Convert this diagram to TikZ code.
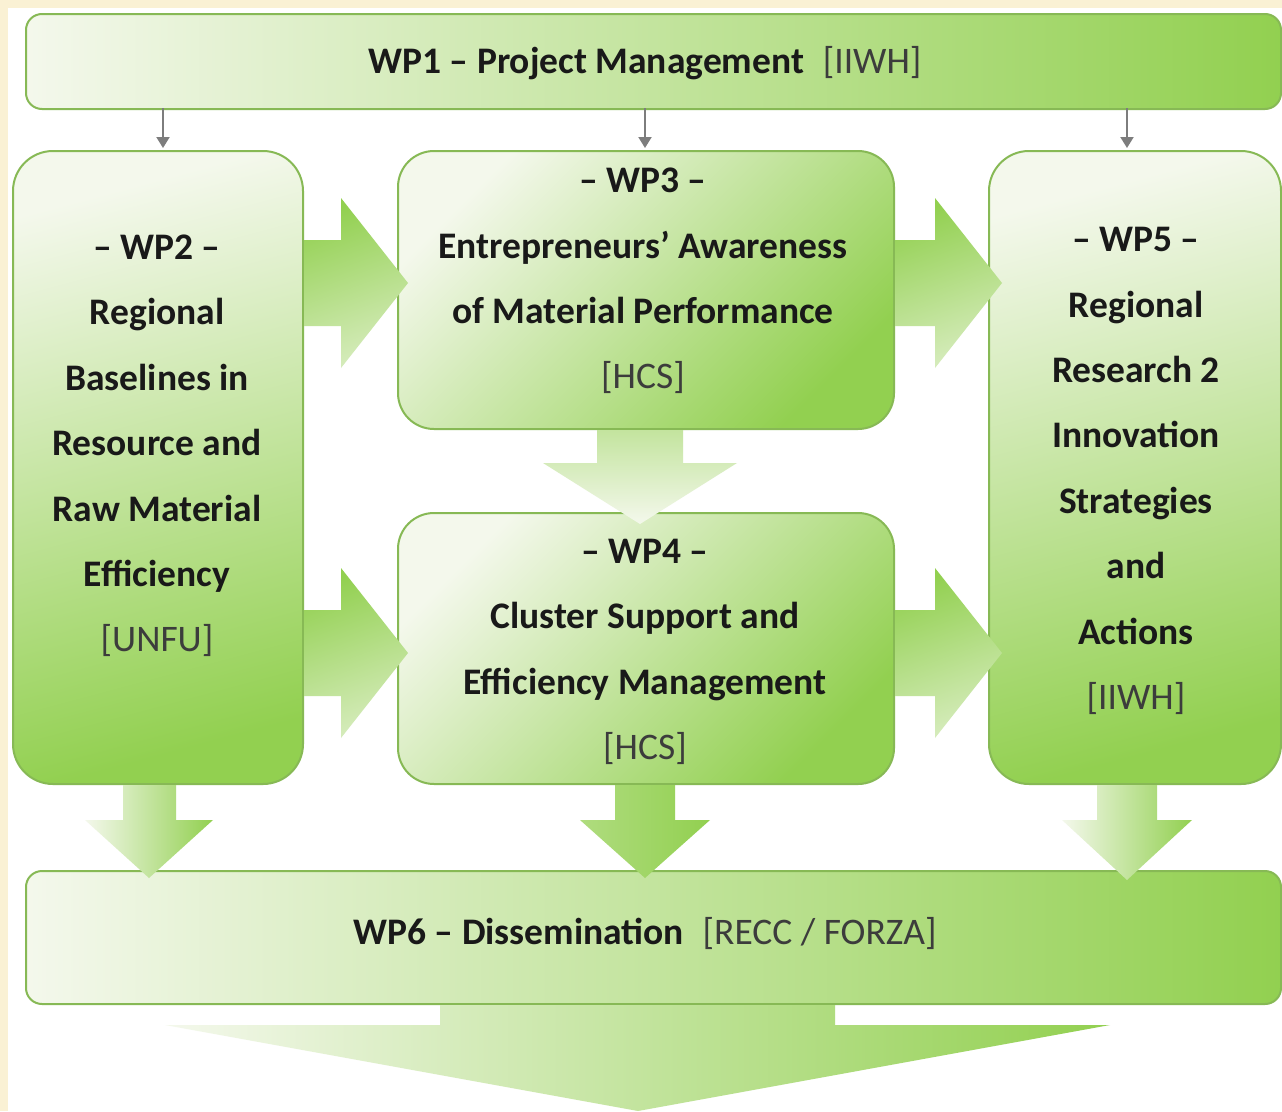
\documentclass[tikz,border=0pt]{standalone}
\usepackage{fontspec}
\setmainfont{Carlito}
\usetikzlibrary{arrows.meta,calc}
\definecolor{cream}{RGB}{250,241,212}
\definecolor{gr}{RGB}{146,208,80}
\definecolor{lt}{RGB}{244,248,236}
\definecolor{bd}{RGB}{135,185,85}
\definecolor{txt}{RGB}{25,25,25}
\definecolor{brk}{RGB}{60,60,60}
\definecolor{arrgray}{RGB}{125,125,125}
\begin{document}
\begin{tikzpicture}[x=1pt,y=-1pt,
  wpbox/.style={draw=bd, line width=2pt, inner sep=0pt, anchor=north west},
  wptext/.style={font=\fontsize{37.5}{65.4}\selectfont, align=center, text=txt, inner sep=0pt},
  thin arrow/.style={draw=arrgray, line width=2pt, -{Triangle[width=13pt,length=11pt]}},
  blockH/.style={top color=gr, bottom color=lt!70!gr, shading angle=20},
  blockV/.style={left color=lt, right color=gr},
]
\useasboundingbox (0,0) rectangle (1282,1111);
\fill[cream] (0,0) rectangle (1282,1111);
\fill[white] (8,8) rectangle (1282,1111);

% boxes
\node[wpbox, rounded corners=16pt, minimum width=1255pt, minimum height=95pt,
      left color=lt, middle color=lt!60!gr, right color=gr] (wp1) at (25,13) {};
\node[wpbox, rounded corners=40pt, minimum width=290pt, minimum height=633pt,
      top color=lt, bottom color=gr, shading angle=15] (wp2) at (12,150) {};
\node[wpbox, rounded corners=36pt, minimum width=496pt, minimum height=278pt,
      top color=lt, bottom color=gr, shading angle=45] (wp3) at (397,150) {};
\node[wpbox, rounded corners=36pt, minimum width=496pt, minimum height=271pt,
      top color=lt, bottom color=gr, shading angle=45] (wp4) at (397,512) {};
\node[wpbox, rounded corners=40pt, minimum width=292pt, minimum height=633pt,
      top color=lt, bottom color=gr, shading angle=15] (wp5) at (988,150) {};
\node[wpbox, rounded corners=16pt, minimum width=1255pt, minimum height=133pt,
      left color=lt, right color=gr] (wp6) at (25,870) {};

% texts
\node[wptext] (t1) at (645,63) {\textbf{WP1 – Project Management}\hspace{0.5em}\textcolor{brk}{[IIWH]}};
\node[wptext] (t2) at (157,446) {\textbf{– WP2 –}\\\textbf{Regional}\\\textbf{Baselines in}\\\textbf{Resource and}\\\textbf{Raw Material}\\\textbf{Efficiency}\\\textcolor{brk}{[UNFU]}};
\node[wptext] (t3) at (643,281) {\textbf{– WP3 –}\\\textbf{Entrepreneurs’ Awareness}\\\textbf{of Material Performance}\\\textcolor{brk}{[HCS]}};
\node[wptext] (t4) at (645,652) {\textbf{– WP4 –}\\\textbf{Cluster Support and}\\\textbf{Efficiency Management}\\\textcolor{brk}{[HCS]}};
\node[wptext] (t5) at (1136,471) {\textbf{– WP5 –}\\\textbf{Regional}\\\textbf{Research 2}\\\textbf{Innovation}\\\textbf{Strategies}\\\textbf{and}\\\textbf{Actions}\\\textcolor{brk}{[IIWH]}};
\node[wptext] (t6) at (645,933) {\textbf{WP6 – Dissemination}\hspace{0.5em}\textcolor{brk}{[RECC / FORZA]}};

% thin gray arrows from WP1
\draw[thin arrow] (163,108) -- (163,148);
\draw[thin arrow] (645,108) -- (645,148);
\draw[thin arrow] (1127,108) -- (1127,148);

% horizontal block arrows
\shade[blockH] (304,240) -- (341,240) -- (341,198) -- (408,283) -- (341,368) -- (341,326) -- (304,326) -- cycle;
\shade[blockH] (304,610) -- (341,610) -- (341,568) -- (408,653) -- (341,738) -- (341,696) -- (304,696) -- cycle;
\shade[blockH] (895,240) -- (935,240) -- (935,198) -- (1002,283) -- (935,368) -- (935,326) -- (895,326) -- cycle;
\shade[blockH] (895,610) -- (935,610) -- (935,568) -- (1002,653) -- (935,738) -- (935,696) -- (895,696) -- cycle;

% WP3 -> WP4
\shade[top color=lt!50!gr, bottom color=lt]
  (597,430) -- (683,430) -- (683,463) -- (737,463) -- (640,524) -- (543,463) -- (597,463) -- cycle;

% down arrows to WP6
\shade[blockV] (123,785) -- (176,785) -- (176,820) -- (213,820) -- (149,878) -- (85,820) -- (123,820) -- cycle;
\shade[left color=lt!30!gr, right color=gr] (615,785) -- (675,785) -- (675,820) -- (710,820) -- (645,878) -- (580,820) -- (615,820) -- cycle;
\shade[blockV] (1097,785) -- (1157,785) -- (1157,820) -- (1192,820) -- (1127,880) -- (1062,820) -- (1097,820) -- cycle;

% final big arrow
\shade[left color=lt, middle color=lt!50!gr, right color=gr]
  (440,1005) -- (835,1005) -- (835,1025) -- (1110,1025) -- (638,1111) -- (165,1025) -- (440,1025) -- cycle;
\end{tikzpicture}
\end{document}
